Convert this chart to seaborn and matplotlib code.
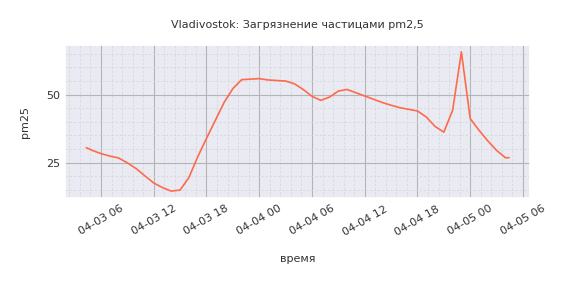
import matplotlib
matplotlib.use("Agg")
import matplotlib.pyplot as plt
from matplotlib.ticker import MultipleLocator, AutoMinorLocator
import seaborn as sns
import pandas as pd
import numpy as np

# --- data ---
times = (
    ["2021-04-03 04:20"]
    + list(pd.date_range("2021-04-03 05:00", "2021-04-05 04:00", freq="h").strftime("%Y-%m-%d %H:%M"))
    + ["2021-04-05 04:25"]
)
pm25 = [
    30.5,                                   # 04-03 04:20
    29.5, 28.3, 27.4, 26.7, 24.9, 22.8,     # 05..10
    20.1, 17.5, 15.8, 14.5, 14.9, 19.5,     # 11..16
    27.1, 33.9, 40.5, 47.1, 52.2, 55.5,     # 17..22
    55.7,                                   # 23
    55.9, 55.4, 55.2, 55.0, 54.0, 51.9,     # 04-04 00..05
    49.4, 47.9, 49.1, 51.3, 51.9, 50.7,     # 06..11
    49.5, 48.3, 47.1, 46.1, 45.2, 44.6,     # 12..17
    44.0, 41.8, 38.3, 36.2, 44.2, 65.7,     # 18..23
    41.2, 36.9, 33.0, 29.5, 26.8,           # 04-05 00..04
    26.8,                                   # 04-05 04:25
]

title = "Vladivostok: Загрязнение частицами pm2,5"
xlabel = "время"
ylabel = "pm25"

df = pd.DataFrame({"время": pd.to_datetime(times), "pm25": pm25})

sns.set_theme(style="darkgrid")
plt.rcParams["font.family"] = ["DejaVu Sans"]

fig = plt.figure(figsize=(5.67, 2.83), dpi=100)
ax = fig.add_axes([0.115, 0.30, 0.82, 0.541])

sns.lineplot(data=df, x="время", y="pm25", ax=ax, color="#fe6a4c", linewidth=1.2)

ax.yaxis.set_major_locator(MultipleLocator(25))
ax.minorticks_on()
ax.yaxis.set_minor_locator(AutoMinorLocator(5))
ax.grid(which="major", color="#b4b4b8", linewidth=0.8)
ax.grid(which="minor", color="#d8d8e0", linewidth=0.6, linestyle=(0, (3, 2)))
ax.set_axisbelow(True)

ax.set_title(title, fontsize=8, pad=12, color="#333333")
ax.set_xlabel(xlabel, fontsize=8, labelpad=12, color="#333333")
ax.set_ylabel(ylabel, fontsize=8, labelpad=12, color="#333333")
ax.tick_params(axis="both", which="both", labelsize=8, length=0, colors="#333333")
ax.tick_params(axis="x", which="major", pad=4)
for lbl in ax.get_xticklabels():
    lbl.set_rotation(30)

fig.savefig("out.png", dpi=100)
